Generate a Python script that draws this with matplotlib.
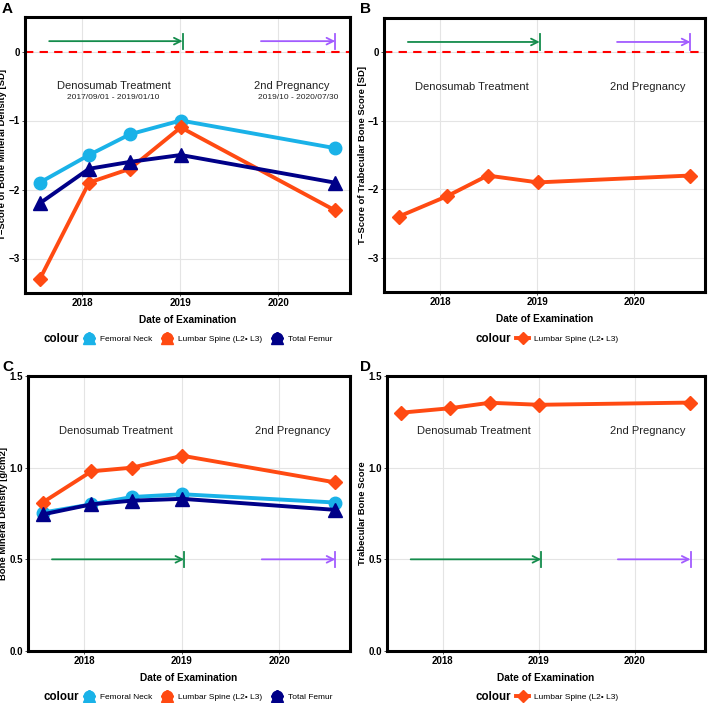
import pandas as pd
import matplotlib.pyplot as plt
import matplotlib.dates as mdates
from matplotlib.lines import Line2D
from matplotlib.legend_handler import HandlerTuple

plt.rcParams['font.family'] = ['Liberation Sans', 'DejaVu Sans']

# data
exam_dates = ['2017-07-28', '2018-01-27', '2018-06-28', '2019-01-03', '2020-07-28']
series_names = ['Femoral Neck', 'Lumbar Spine (L2\u2022 L3)', 'Total Femur']

tscore_neck = [-1.9, -1.5, -1.2, -1.0, -1.4]
tscore_spine = [-3.3, -1.9, -1.7, -1.1, -2.3]
tscore_femur = [-2.2, -1.7, -1.6, -1.5, -1.9]

tbs_tscore = [-2.4, -2.1, -1.8, -1.9, -1.8]

bmd_neck = [0.755, 0.80, 0.84, 0.855, 0.81]
bmd_spine = [0.81, 0.98, 1.00, 1.065, 0.92]
bmd_femur = [0.745, 0.80, 0.82, 0.83, 0.77]

tbs_value = [1.30, 1.324, 1.354, 1.343, 1.355]

treatment = ['2017-09-01', '2019-01-10']
pregnancy = ['2019-10-28', '2020-07-30']

colors = ['#1ab2e8', '#ff4a12', '#000088']
markers = ['o', 'D', '^']
msizes = [9, 7, 10]
arrow_green = '#148c4c'
arrow_purple = '#a25cff'

dates = pd.to_datetime(exam_dates)
treat = pd.to_datetime(treatment)
preg = pd.to_datetime(pregnancy)

W, H = 709, 703
fig = plt.figure(figsize=(W / 100, H / 100), dpi=100)


def make_axes(x0, y0, x1, y1):
    return fig.add_axes([x0 / W, 1 - y1 / H, (x1 - x0) / W, (y1 - y0) / H])


def style_axes(ax, ylim, yticks, ylabel):
    lo = min(dates.min(), treat.min())
    hi = max(dates.max(), preg.max())
    pad = (hi - lo) * 0.05
    ax.set_xlim(lo - pad, hi + pad)
    ax.set_ylim(*ylim)
    ax.set_yticks(yticks)
    ax.xaxis.set_major_locator(mdates.YearLocator())
    ax.xaxis.set_major_formatter(mdates.DateFormatter('%Y'))
    ax.grid(True, color='#e4e4e4', lw=0.8)
    ax.set_axisbelow(True)
    for s in ax.spines.values():
        s.set_linewidth(2.2)
        s.set_color('black')
    ax.tick_params(length=2, width=0.6, color='#333333', labelsize=7, pad=1.5)
    for lab in ax.get_xticklabels() + ax.get_yticklabels():
        lab.set_fontweight('bold')
    ax.set_xlabel('Date of Examination', fontsize=7.3, fontweight='bold', labelpad=5)
    ax.set_ylabel(ylabel, fontsize=6.8, fontweight='bold', labelpad=1)


def draw_arrows(ax, y, bar):
    for (start, end), col in [(treat, arrow_green), (preg, arrow_purple)]:
        ax.annotate('', xy=(end, y), xytext=(start, y),
                    arrowprops=dict(arrowstyle='->', color=col, lw=1.3,
                                    mutation_scale=12, shrinkA=0, shrinkB=0))
        ax.plot([end, end], [y - bar, y + bar], color=col, lw=1.3)


def draw_labels(ax, y, sub=None):
    ax.text(pd.Timestamp('2018-04-28'), y, 'Denosumab Treatment', ha='center',
            va='center', fontsize=8, color='#222222')
    ax.text(pd.Timestamp('2020-02-20'), y, '2nd Pregnancy', ha='center',
            va='center', fontsize=8, color='#222222')
    if sub is not None:
        ax.text(pd.Timestamp('2018-04-28'), sub, '2017/09/01 - 2019/01/10',
                ha='center', va='center', fontsize=6, color='#222222')
        ax.text(pd.Timestamp('2020-03-15'), sub, '2019/10 - 2020/07/30',
                ha='center', va='center', fontsize=6, color='#222222')


def plot_three(ax, vals):
    for v, c, m, ms in zip(vals, colors, markers, msizes):
        ax.plot(dates, v, color=c, lw=2.8, marker=m, ms=ms, solid_joinstyle='round')


def legend_three(x_colour, x_leg, y):
    fig.text(x_colour / W, 1 - y / H, 'colour', fontsize=8.3, fontweight='bold', va='center')
    handles = []
    for c in colors:
        handles.append(tuple(Line2D([], [], ls='none', marker=m, ms=ms * 0.85, color=c)
                             for m, ms in zip(markers, msizes)))
    fig.legend(handles, series_names, handler_map={tuple: HandlerTuple(ndivide=1)},
               loc='center left', bbox_to_anchor=(x_leg / W, 1 - y / H), ncol=3,
               frameon=False, fontsize=6, handlelength=1.6, columnspacing=1.0,
               handletextpad=0.5, borderaxespad=0, borderpad=0)


def legend_one(x_colour, x_leg, y):
    fig.text(x_colour / W, 1 - y / H, 'colour', fontsize=8.3, fontweight='bold', va='center')
    h = Line2D([], [], color=colors[1], lw=2.8, marker='D', ms=6)
    fig.legend([h], [series_names[1]], loc='center left',
               bbox_to_anchor=(x_leg / W, 1 - y / H), frameon=False, fontsize=6,
               handlelength=1.6, handletextpad=0.5, borderaxespad=0, borderpad=0)


# A
axA = make_axes(25, 17, 350, 293)
axA.axhline(0, color='red', ls=(0, (4, 3)), lw=1.5)
plot_three(axA, [tscore_neck, tscore_spine, tscore_femur])
draw_arrows(axA, 0.15, 0.11)
draw_labels(axA, -0.5, -0.67)
style_axes(axA, (-3.5, 0.5), [0, -1, -2, -3], 'T\u2212Score of Bone Mineral Density [SD]')
legend_three(44, 82, 339)

# B
axB = make_axes(384, 18, 705, 292)
axB.axhline(0, color='red', ls=(0, (4, 3)), lw=1.5)
axB.plot(dates, tbs_tscore, color=colors[1], lw=2.8, marker='D', ms=7)
draw_arrows(axB, 0.15, 0.11)
draw_labels(axB, -0.5)
style_axes(axB, (-3.5, 0.5), [0, -1, -2, -3], 'T\u2212Score of Trabecular Bone Score [SD]')
legend_one(476, 516, 339)

# C
axC = make_axes(28, 376, 350, 651)
plot_three(axC, [bmd_neck, bmd_spine, bmd_femur])
draw_arrows(axC, 0.5, 0.04)
draw_labels(axC, 1.2)
style_axes(axC, (0, 1.5), [0, 0.5, 1.0, 1.5], 'Bone Mineral Density [g/cm2]')
legend_three(44, 82, 697)

# D
axD = make_axes(387, 376, 705, 651)
axD.plot(dates, tbs_value, color=colors[1], lw=2.8, marker='D', ms=7)
draw_arrows(axD, 0.5, 0.04)
draw_labels(axD, 1.2)
style_axes(axD, (0, 1.5), [0, 0.5, 1.0, 1.5], 'Trabecular Bone Score')
legend_one(476, 516, 697)

for lab, x, y in [('A', 2, 2), ('B', 360, 2), ('C', 2, 360), ('D', 360, 360)]:
    fig.text(x / W, 1 - y / H, lab, fontsize=11, fontweight='bold', va='top')

fig.savefig('out.png', dpi=100)
